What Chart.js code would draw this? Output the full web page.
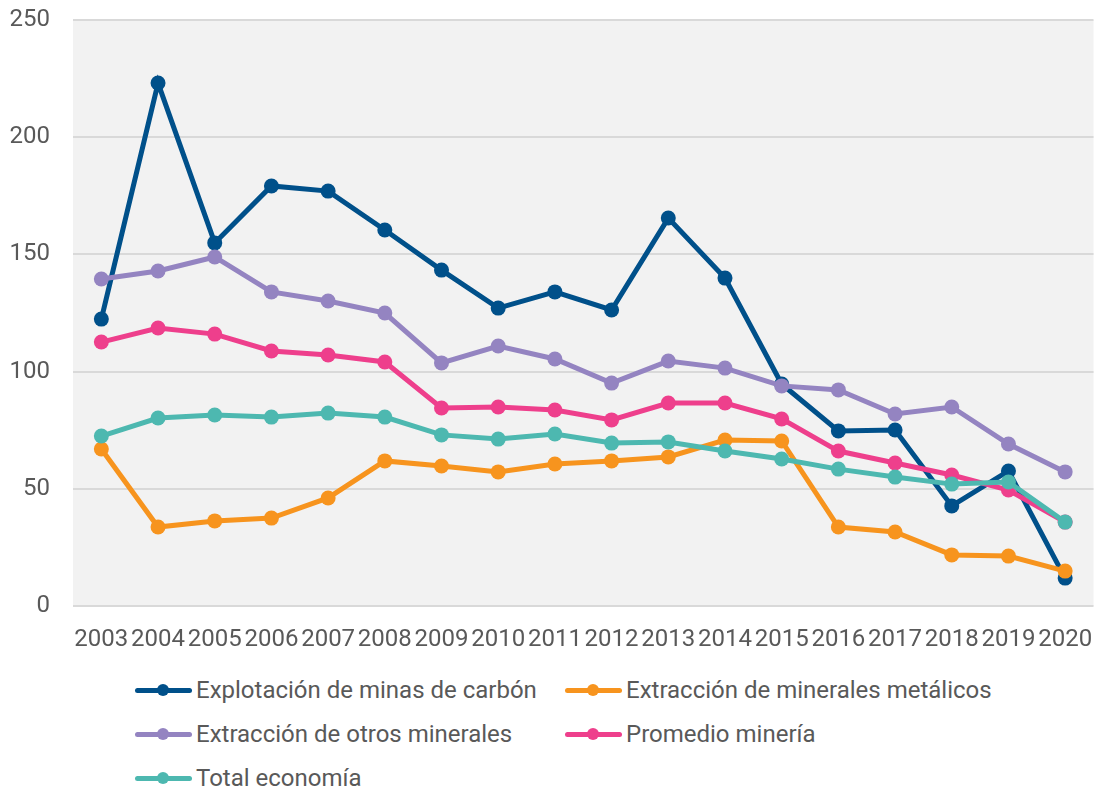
<!DOCTYPE html>
<html>
<head>
<meta charset="utf-8">
<script src="https://cdn.jsdelivr.net/npm/chart.js@4/dist/chart.umd.min.js"></script>
<style>
  body { margin: 0; background: #fff; font-family: Roboto, sans-serif; }
  #wrap { position: relative; width: 1101px; height: 660px; }
  #legend {
    position: absolute; left: 135px; top: 668px;
    display: grid; grid-template-columns: 430px auto; grid-auto-rows: 44px;
    color: #595959; font-size: 24px;
  }
  .item { display: flex; align-items: center; }
  .swatch { position: relative; width: 57px; height: 14px; margin-right: 4px; }
  .swatch .ln { position: absolute; left: 0; right: 0; top: 4.5px; height: 5px; border-radius: 3px; }
  .swatch .dot { position: absolute; left: 22px; top: 1px; width: 12px; height: 12px; border-radius: 50%; }
</style>
</head>
<body>
<div id="wrap"><canvas id="chart"></canvas></div>
<div id="legend"></div>
<script>
const years = ["2003","2004","2005","2006","2007","2008","2009","2010","2011","2012","2013","2014","2015","2016","2017","2018","2019","2020"];

const carbon    = [122.4, 223.1, 154.9, 179.2, 177.0, 160.4, 143.3, 127.1, 134.0, 126.3, 165.5, 139.9, 94.7, 74.7, 75.1, 42.7, 57.6, 11.9];
const metalicos = [67.0, 33.7, 36.3, 37.5, 46.1, 61.9, 59.7, 57.2, 60.6, 61.9, 63.6, 70.8, 70.4, 33.7, 31.6, 21.8, 21.3, 14.9];
const otros     = [139.5, 142.9, 148.9, 134.0, 130.1, 125.0, 103.7, 110.9, 105.4, 95.1, 104.5, 101.5, 93.9, 92.2, 81.9, 84.9, 69.1, 57.2];
const promedio  = [112.6, 118.6, 116.0, 108.8, 107.1, 104.1, 84.5, 84.9, 83.6, 79.4, 86.6, 86.6, 79.8, 66.1, 61.0, 55.9, 49.5, 35.8];
const total     = [72.5, 80.2, 81.5, 80.6, 82.3, 80.6, 73.0, 71.2, 73.4, 69.5, 70.0, 66.1, 62.7, 58.4, 55.0, 52.0, 52.9, 35.8];

const names  = ["Explotación de minas de carbón", "Extracción de minerales metálicos", "Extracción de otros minerales", "Promedio minería", "Total economía"];
const colors = ["#00508a", "#f7941e", "#9484c1", "#ee3f8c", "#4db8b0"];
const series = [carbon, metalicos, otros, promedio, total];

// grey plot background
const plotBg = {
  id: "plotBg",
  beforeDraw(chart) {
    const a = chart.chartArea, ctx = chart.ctx;
    ctx.save();
    ctx.fillStyle = "#f2f2f2";
    ctx.fillRect(a.left, a.top, a.right - a.left, a.bottom - a.top);
    ctx.restore();
  }
};

const datasets = series.map((d, i) => ({
  label: names[i],
  data: d,
  borderColor: colors[i],
  backgroundColor: colors[i],
  pointBackgroundColor: colors[i],
  pointBorderWidth: 0,
  pointRadius: 7.5,
  borderWidth: 5,
  tension: 0,
  order: series.length - i  // last series drawn on top
}));

const tickFont = { family: "Roboto", size: 24 };

new Chart(document.getElementById("chart"), {
  type: "line",
  data: { labels: years, datasets: datasets },
  plugins: [plotBg],
  options: {
    responsive: true,
    maintainAspectRatio: false,
    animation: false,
    layout: { padding: { left: 0, right: 4, top: 20, bottom: 0 } },
    plugins: { legend: { display: false }, tooltip: { enabled: false } },
    scales: {
      x: {
        offset: true,
        grid: { display: false, drawTicks: false },
        border: { display: false },
        ticks: { color: "#595959", font: tickFont, padding: 20, maxRotation: 0, autoSkip: false },
        afterFit(s) { s.height = 54; s.paddingLeft = 0; s.paddingRight = 0; }
      },
      y: {
        min: 0, max: 250,
        ticks: { stepSize: 50, color: "#595959", font: tickFont, padding: 23 },
        grid: { color: "#d9d9d9", lineWidth: 2, drawTicks: false },
        border: { display: false },
        afterFit(s) { s.width = 73; s.paddingTop = 0; s.paddingBottom = 0; }
      }
    }
  }
});

const legend = document.getElementById("legend");
names.forEach((n, i) => {
  const it = document.createElement("div");
  it.className = "item";
  it.innerHTML = '<span class="swatch"><span class="ln" style="background:' + colors[i] + '"></span><span class="dot" style="background:' + colors[i] + '"></span></span><span>' + n + '</span>';
  legend.appendChild(it);
});
</script>
</body>
</html>
